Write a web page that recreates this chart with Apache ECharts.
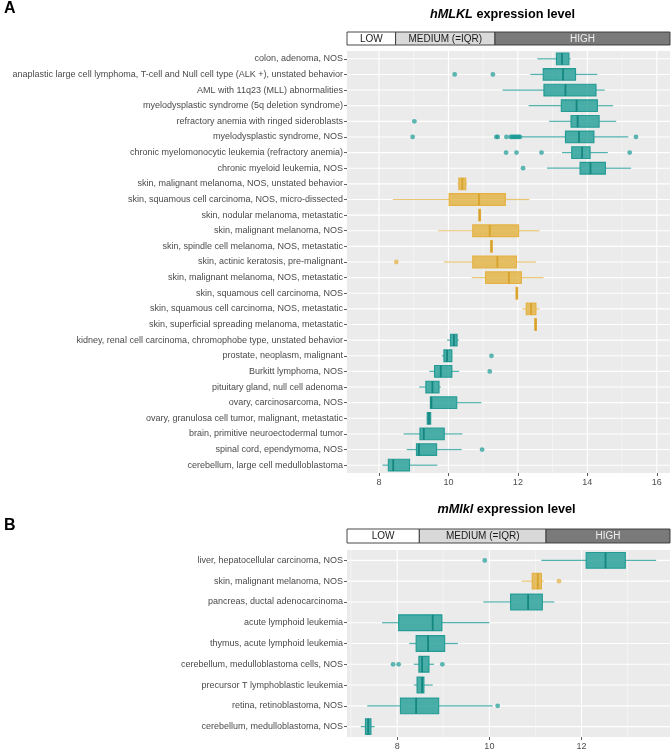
<!DOCTYPE html>
<html><head><meta charset="utf-8">
<script src="https://cdn.jsdelivr.net/npm/echarts@6/dist/echarts.min.js"></script>
<style>html,body{margin:0;padding:0;background:#fff}#c{width:672px;height:752px}</style>
</head><body><div id="c"></div>
<script>
// ---------- Panel A (hMLKL) ----------
const hCategories = [
  'colon, adenoma, NOS',
  'anaplastic large cell lymphoma, T-cell and Null cell type (ALK +), unstated behavior',
  'AML with 11q23 (MLL) abnormalities',
  'myelodysplastic syndrome (5q deletion syndrome)',
  'refractory anemia with ringed sideroblasts',
  'myelodysplastic syndrome, NOS',
  'chronic myelomonocytic leukemia (refractory anemia)',
  'chronic myeloid leukemia, NOS',
  'skin, malignant melanoma, NOS, unstated behavior',
  'skin, squamous cell carcinoma, NOS, micro-dissected',
  'skin, nodular melanoma, metastatic',
  'skin, malignant melanoma, NOS',
  'skin, spindle cell melanoma, NOS, metastatic',
  'skin, actinic keratosis, pre-malignant',
  'skin, malignant melanoma, NOS, metastatic',
  'skin, squamous cell carcinoma, NOS',
  'skin, squamous cell carcinoma, NOS, metastatic',
  'skin, superficial spreading melanoma, metastatic',
  'kidney, renal cell carcinoma, chromophobe type, unstated behavior',
  'prostate, neoplasm, malignant',
  'Burkitt lymphoma, NOS',
  'pituitary gland, null cell adenoma',
  'ovary, carcinosarcoma, NOS',
  'ovary, granulosa cell tumor, malignant, metastatic',
  'brain, primitive neuroectodermal tumor',
  'spinal cord, ependymoma, NOS',
  'cerebellum, large cell medulloblastoma'
];
// [lower whisker, Q1, median, Q3, upper whisker]
const hStats = [
  [12.56,13.11,13.27,13.47,13.52],
  [12.36,12.73,13.30,13.66,14.29],
  [11.56,12.75,13.37,14.25,14.50],
  [12.31,13.25,13.69,14.29,14.74],
  [12.90,13.53,13.72,14.34,14.83],
  [12.10,13.37,13.76,14.19,15.18],
  [13.27,13.55,13.85,14.08,14.59],
  [12.84,13.79,14.09,14.52,15.26],
  [10.26,10.30,10.40,10.50,10.54],
  [8.40,10.02,10.88,11.64,12.33],
  [10.88,10.89,10.90,10.91,10.92],
  [9.70,10.70,11.19,12.02,12.62],
  [11.22,11.23,11.24,11.25,11.26],
  [9.87,10.70,11.41,11.96,12.52],
  [10.67,11.07,11.74,12.10,12.74],
  [11.95,11.96,11.97,11.98,11.99],
  [12.12,12.24,12.38,12.52,12.62],
  [12.49,12.50,12.51,12.52,12.53],
  [9.96,10.06,10.16,10.25,10.30],
  [9.81,9.87,9.96,10.10,10.11],
  [9.45,9.60,9.78,10.10,10.31],
  [9.16,9.35,9.54,9.73,9.78],
  [9.47,9.48,9.51,10.24,10.95],
  [9.37,9.39,9.44,9.49,9.50],
  [8.71,9.18,9.29,9.88,10.40],
  [8.80,9.08,9.15,9.66,10.38],
  [8.10,8.27,8.41,8.88,9.68]
];
// 1 = skin (yellow group), 0 = other (teal group)
const hGroup = [0,0,0,0,0,0,0,0,1,1,1,1,1,1,1,1,1,1,0,0,0,0,0,0,0,0,0];
// [category index, value]
const hOutliers = [
  [1,10.18],[1,11.28],[4,9.02],
  [5,8.97],[5,11.38],[5,11.42],[5,11.67],[5,11.79],[5,11.83],[5,11.87],[5,11.91],[5,11.95],[5,11.99],[5,12.03],[5,12.06],[5,15.40],
  [6,11.66],[6,11.96],[6,12.68],[6,15.22],
  [7,12.15],[13,8.50],[19,11.24],[20,11.19],[25,10.97]
];
const hRange = [7.08, 16.38];
const hTicks = [8, 10, 12, 14, 16];
const hMinor = [9, 11, 13, 15];
const hStripBreaks = [8.48, 11.34];

// ---------- Panel B (mMlkl) ----------
const bCategories = [
  'liver, hepatocellular carcinoma, NOS',
  'skin, malignant melanoma, NOS',
  'pancreas, ductal adenocarcinoma',
  'acute lymphoid leukemia',
  'thymus, acute lymphoid leukemia',
  'cerebellum, medulloblastoma cells, NOS',
  'precursor T lymphoblastic leukemia',
  'retina, retinoblastoma, NOS',
  'cerebellum, medulloblastoma, NOS'
];
const bStats = [
  [11.13,12.10,12.52,12.95,13.62],
  [10.70,10.93,11.05,11.13,11.18],
  [9.87,10.46,10.84,11.15,11.41],
  [7.67,8.03,8.77,8.97,10.00],
  [8.26,8.41,8.67,9.03,9.32],
  [8.36,8.47,8.54,8.69,8.80],
  [8.36,8.43,8.54,8.58,8.77],
  [7.35,8.07,8.41,8.90,10.07],
  [7.21,7.31,7.37,7.43,7.51]
];
const bGroup = [0,1,0,0,0,0,0,0,0];
const bOutliers = [[0,9.90],[1,11.51],[5,7.91],[5,8.03],[5,8.98],[7,10.18]];
const bRange = [6.91, 13.92];
const bTicks = [8, 10, 12];
const bMinor = [7, 9, 11, 13];
const bStripBreaks = [8.48, 11.23];

const stripLabels = ['LOW', 'MEDIUM (=IQR)', 'HIGH'];

// ---------- styles ----------
const FONT = "'Liberation Sans', Arial, sans-serif";
const groupStyle = [
  {fill: 'rgba(26,154,148,0.78)', stroke: 'rgba(20,148,141,0.88)', whisker: 'rgba(26,154,148,0.75)', median: 'rgba(16,130,124,0.92)', point: 'rgba(26,154,148,0.88)'},
  {fill: 'rgba(227,177,63,0.80)', stroke: 'rgba(226,172,52,0.88)', whisker: 'rgba(227,177,63,0.72)', median: 'rgba(214,160,40,0.92)', point: 'rgba(227,177,63,0.88)'}
];
const stripStyle = [
  {fill: '#ffffff', text: '#1a1a1a'},
  {fill: '#d9d9d9', text: '#1a1a1a'},
  {fill: '#7a7a7a', text: '#efefef'}
];

const chart = echarts.init(document.getElementById('c'), null, {renderer: 'canvas'});

function xAxisFor(gridIndex, range, ticks, show) {
  return {
    type: 'value', gridIndex, min: range[0], max: range[1],
    show: show,
    axisLine: {show: false},
    axisTick: {show: show, length: 3, lineStyle: {color: '#333', width: 0.8}, customValues: ticks},
    axisLabel: {show: show, fontSize: 9, color: '#4d4d4d', fontFamily: FONT, margin: 5, customValues: ticks},
    splitLine: {show: false}
  };
}
function yCatAxis(gridIndex, cats) {
  return {
    type: 'category', gridIndex, data: cats, inverse: true,
    axisLine: {show: false},
    axisTick: {show: true, alignWithLabel: true, length: 3, lineStyle: {color: '#333', width: 0.8}},
    axisLabel: {interval: 0, fontSize: 9, color: '#4a4a4a', fontFamily: FONT, margin: 4},
    splitLine: {show: false}
  };
}
function yStripAxis(gridIndex) {
  return {type: 'category', gridIndex, data: ['s'], show: false};
}

function hLineSeries(xi, yi, cats, range) {
  return {
    type: 'custom', xAxisIndex: xi, yAxisIndex: yi, z: 1, silent: true,
    encode: {x: 0, y: 1},
    data: cats.map((c, i) => [range[0], i]),
    renderItem(params, api) {
      const cs = params.coordSys;
      const y = api.coord([api.value(0), api.value(1)])[1];
      return {type: 'line', shape: {x1: cs.x, y1: y, x2: cs.x + cs.width, y2: y},
        style: {stroke: '#ffffff', lineWidth: 1.1}};
    }
  };
}
function vLineSeries(xi, yi, values, width, color) {
  return {
    type: 'custom', xAxisIndex: xi, yAxisIndex: yi, z: 1, silent: true,
    encode: {x: 0, y: 1},
    data: values.map(v => [v, 0]),
    renderItem(params, api) {
      const cs = params.coordSys;
      const x = api.coord([api.value(0), 0])[0];
      return {type: 'line', shape: {x1: x, y1: cs.y, x2: x, y2: cs.y + cs.height},
        style: {stroke: color, lineWidth: width}};
    }
  };
}
function boxSeries(xi, yi, stats, group, frac) {
  return {
    type: 'custom', xAxisIndex: xi, yAxisIndex: yi, z: 3, silent: true,
    encode: {x: [1, 2, 3, 4, 5], y: 0},
    data: stats.map((s, i) => [i, s[0], s[1], s[2], s[3], s[4]]),
    renderItem(params, api) {
      const i = api.value(0);
      const st = groupStyle[group[params.dataIndex]];
      const pMin = api.coord([api.value(1), i]);
      const pQ1 = api.coord([api.value(2), i]);
      const pMed = api.coord([api.value(3), i]);
      const pQ3 = api.coord([api.value(4), i]);
      const pMax = api.coord([api.value(5), i]);
      const band = api.size([0, 1])[1];
      const h = band * frac;
      const y = pMed[1];
      let w = pQ3[0] - pQ1[0];
      let x0 = pQ1[0];
      if (w < 1.6) { x0 = pMed[0] - 0.8; w = 1.6; }
      return {
        type: 'group',
        children: [
          {type: 'line', shape: {x1: pMin[0], y1: y, x2: pQ1[0], y2: y}, style: {stroke: st.whisker, lineWidth: 1.2}},
          {type: 'line', shape: {x1: pQ3[0], y1: y, x2: pMax[0], y2: y}, style: {stroke: st.whisker, lineWidth: 1.2}},
          {type: 'rect', shape: {x: x0, y: y - h / 2, width: w, height: h}, style: {fill: st.fill, stroke: st.stroke, lineWidth: 1.1}},
          {type: 'line', shape: {x1: pMed[0], y1: y - h / 2, x2: pMed[0], y2: y + h / 2}, style: {stroke: st.median, lineWidth: 1.8}}
        ]
      };
    }
  };
}
function outlierSeries(xi, yi, outs, group) {
  return {
    type: 'scatter', xAxisIndex: xi, yAxisIndex: yi, z: 4, symbolSize: 4.8,
    data: outs.map(o => ({value: [o[1], o[0]], itemStyle: {color: groupStyle[group[o[0]]].point}})),
    emphasis: {disabled: true}
  };
}
function stripSeries(xi, yi, range, breaks) {
  const edges = [range[0], breaks[0], breaks[1], range[1]];
  return {
    type: 'custom', xAxisIndex: xi, yAxisIndex: yi, silent: true,
    encode: {x: [0, 1], y: 2},
    data: stripLabels.map((l, i) => [edges[i], edges[i + 1], 0]),
    renderItem(params, api) {
      const cs = params.coordSys;
      const i = params.dataIndex;
      const x0 = api.coord([api.value(0), 0])[0];
      const x1 = api.coord([api.value(1), 0])[0];
      return {
        type: 'group',
        children: [
          {type: 'rect', shape: {x: x0, y: cs.y, width: x1 - x0, height: cs.height},
            style: {fill: stripStyle[i].fill, stroke: '#333', lineWidth: 0.9}},
          {type: 'text', style: {text: stripLabels[i], x: (x0 + x1) / 2, y: cs.y + cs.height / 2 + 0.5,
            align: 'center', verticalAlign: 'middle', fill: stripStyle[i].text,
            fontSize: 10, fontFamily: FONT}}
        ]
      };
    }
  };
}

const titleRich = {
  i: {fontStyle: 'italic', fontWeight: 'bold', fontSize: 12.7, fontFamily: FONT, color: '#000'},
  b: {fontWeight: 'bold', fontSize: 12.7, fontFamily: FONT, color: '#000'}
};

chart.setOption({
  animation: false,
  backgroundColor: '#ffffff',
  title: [
    {text: 'A', left: 4, top: 1, padding: 0, textStyle: {fontSize: 16, fontWeight: 'bold', fontFamily: FONT, color: '#000'}},
    {text: 'B', left: 4, top: 518, padding: 0, textStyle: {fontSize: 16, fontWeight: 'bold', fontFamily: FONT, color: '#000'}},
    {text: '{i|hMLKL}{b| expression level}', left: 502.5, textAlign: 'center', top: 8, padding: 0, textStyle: {rich: titleRich}},
    {text: '{i|mMlkl}{b| expression level}', left: 506.5, textAlign: 'center', top: 503, padding: 0, textStyle: {rich: titleRich}}
  ],
  grid: [
    {left: 347, right: 2, top: 51, height: 422, show: true, backgroundColor: '#ebebeb', borderWidth: 0},
    {left: 347, right: 2, top: 32, height: 13, show: false},
    {left: 347, right: 2, top: 550, height: 187, show: true, backgroundColor: '#ebebeb', borderWidth: 0},
    {left: 347, right: 2, top: 529, height: 14, show: false}
  ],
  xAxis: [
    xAxisFor(0, hRange, hTicks, true),
    xAxisFor(1, hRange, hTicks, false),
    xAxisFor(2, bRange, bTicks, true),
    xAxisFor(3, bRange, bTicks, false)
  ],
  yAxis: [
    yCatAxis(0, hCategories),
    yStripAxis(1),
    yCatAxis(2, bCategories),
    yStripAxis(3)
  ],
  series: [
    hLineSeries(0, 0, hCategories, hRange),
    vLineSeries(0, 0, hMinor, 0.6, '#f8f8f8'),
    vLineSeries(0, 0, hTicks, 1.1, '#ffffff'),
    boxSeries(0, 0, hStats, hGroup, 0.75),
    outlierSeries(0, 0, hOutliers, hGroup),
    stripSeries(1, 1, hRange, hStripBreaks),
    hLineSeries(2, 2, bCategories, bRange),
    vLineSeries(2, 2, bMinor, 0.6, '#f8f8f8'),
    vLineSeries(2, 2, bTicks, 1.1, '#ffffff'),
    boxSeries(2, 2, bStats, bGroup, 0.76),
    outlierSeries(2, 2, bOutliers, bGroup),
    stripSeries(3, 3, bRange, bStripBreaks)
  ]
});
</script>
</body></html>
